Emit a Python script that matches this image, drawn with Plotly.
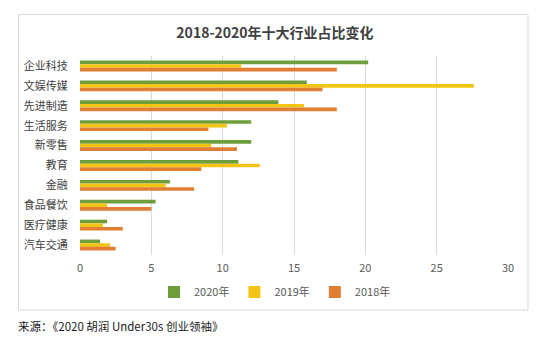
import plotly.graph_objects as go

categories = ["企业科技", "文娱传媒", "先进制造", "生活服务", "新零售", "教育", "金融", "食品餐饮", "医疗健康", "汽车交通"]
v2020 = [20.2, 15.9, 13.9, 12.0, 12.0, 11.1, 6.3, 5.3, 1.9, 1.4]
v2019 = [11.3, 27.6, 15.7, 10.3, 9.2, 12.6, 6.0, 1.9, 1.6, 2.1]
v2018 = [18.0, 17.0, 18.0, 9.0, 11.0, 8.5, 8.0, 5.0, 3.0, 2.5]
series_names = ["2020年", "2019年", "2018年"]
colors = ["#6E9E3C", "#F2C414", "#E07E34"]
x_ticks = [0, 5, 10, 15, 20, 25, 30]

FONT = "Noto Sans CJK SC"

fig = go.Figure()
for name, vals, col in zip(series_names, [v2020, v2019, v2018], colors):
    fig.add_trace(go.Bar(y=categories, x=vals, name=name, orientation="h",
                         marker=dict(color=col, line=dict(width=0))))

# plot area: x 80..508, y 56..255 (px)
L, R, T, B = 80, 508, 56, 255
W, H = 550, 344
def px_x(p):
    return (p - L) / (R - L)
def px_y(p):
    return (B - p) / (B - T)

fig.update_layout(
    width=W, height=H,
    margin=dict(l=L, r=W - R, t=T, b=H - B),
    paper_bgcolor="white", plot_bgcolor="white",
    barmode="group", bargap=0.45, bargroupgap=0,
    font=dict(family=FONT, size=11, color="#404040"),
    title=dict(text="<b>2018-2020年十大行业占比变化</b>", x=0.5, xanchor="center",
               y=1 - 33 / H, yanchor="middle", yref="container",
               font=dict(family=FONT, size=14, color="#404040")),
    xaxis=dict(range=[0, 30], tickvals=x_ticks, showgrid=True, gridcolor="#D9D9D9",
               gridwidth=1, zeroline=False, showline=False,
               tickfont=dict(family=FONT, size=11, color="#595959"),
               ticks="outside", ticklen=3, tickcolor="rgba(0,0,0,0)"),
    yaxis=dict(autorange="reversed", showgrid=False, zeroline=False, showline=False,
               tickfont=dict(family=FONT, size=11, color="#404040"),
               ticks="outside", ticklen=9, tickcolor="rgba(0,0,0,0)"),
    legend=dict(orientation="h", x=px_x(275), xanchor="center", y=px_y(292), yanchor="middle",
                font=dict(family=FONT, size=11, color="#595959"), itemwidth=30,
                traceorder="normal", bgcolor="rgba(0,0,0,0)"),
    showlegend=True,
)

fig.add_shape(type="rect", xref="paper", yref="paper",
              x0=px_x(18.5), x1=px_x(528), y0=px_y(310), y1=px_y(14.5),
              line=dict(color="#D9D9D9", width=1), fillcolor="rgba(0,0,0,0)", layer="below")

fig.add_annotation(text="来源：《2020 胡润 Under30s 创业领袖》", xref="paper", yref="paper",
                   x=px_x(16), y=px_y(326), xanchor="left", yanchor="middle", showarrow=False,
                   font=dict(family=FONT, size=11.5, color="#1A1A1A"))

fig.write_html("out.html")
